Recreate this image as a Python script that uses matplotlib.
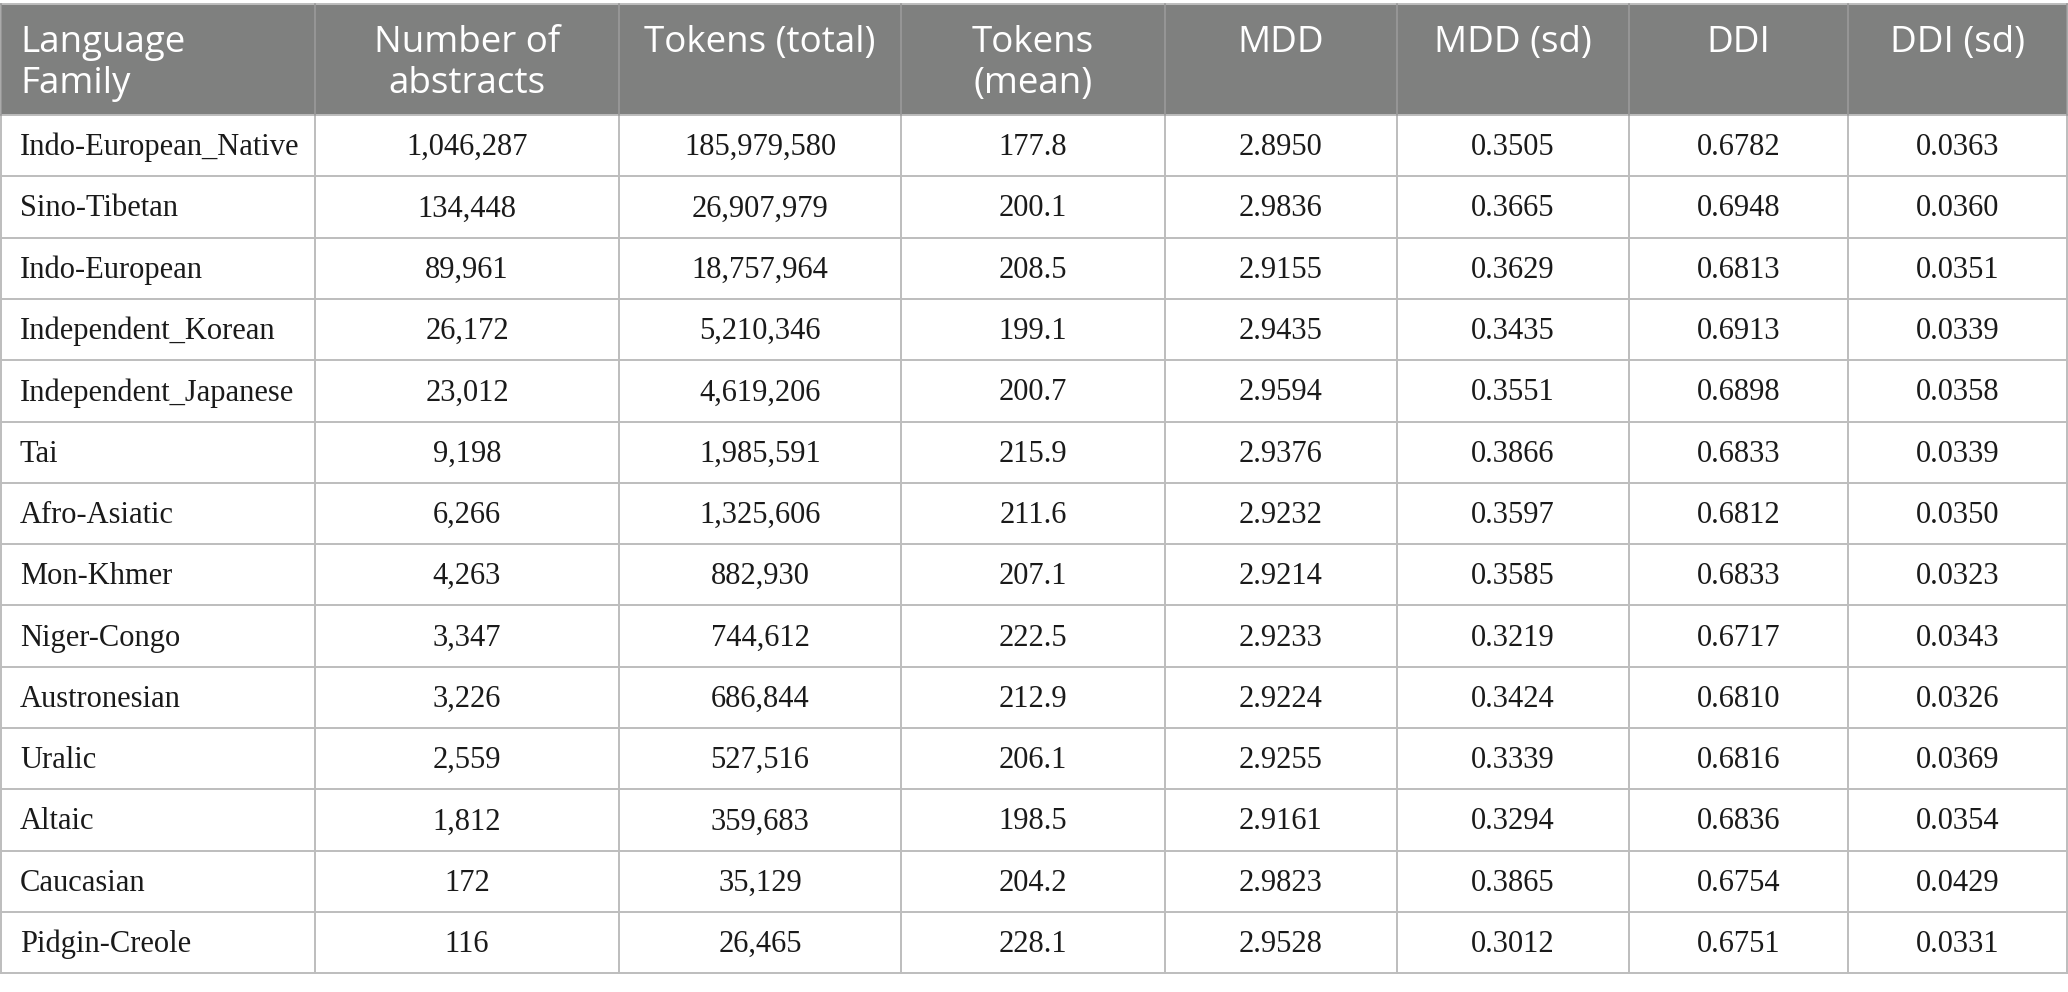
import matplotlib.pyplot as plt
from matplotlib.patches import Rectangle

headers = ["Language\nFamily", "Number of\nabstracts", "Tokens (total)", "Tokens\n(mean)",
           "MDD", "MDD (sd)", "DDI", "DDI (sd)"]

families = ["Indo-European_Native", "Sino-Tibetan", "Indo-European", "Independent_Korean",
            "Independent_Japanese", "Tai", "Afro-Asiatic", "Mon-Khmer", "Niger-Congo",
            "Austronesian", "Uralic", "Altaic", "Caucasian", "Pidgin-Creole"]
n_abstracts = ["1,046,287", "134,448", "89,961", "26,172", "23,012", "9,198", "6,266",
               "4,263", "3,347", "3,226", "2,559", "1,812", "172", "116"]
tokens_total = ["185,979,580", "26,907,979", "18,757,964", "5,210,346", "4,619,206",
                "1,985,591", "1,325,606", "882,930", "744,612", "686,844", "527,516",
                "359,683", "35,129", "26,465"]
tokens_mean = ["177.8", "200.1", "208.5", "199.1", "200.7", "215.9", "211.6", "207.1",
               "222.5", "212.9", "206.1", "198.5", "204.2", "228.1"]
mdd = ["2.8950", "2.9836", "2.9155", "2.9435", "2.9594", "2.9376", "2.9232", "2.9214",
       "2.9233", "2.9224", "2.9255", "2.9161", "2.9823", "2.9528"]
mdd_sd = ["0.3505", "0.3665", "0.3629", "0.3435", "0.3551", "0.3866", "0.3597", "0.3585",
          "0.3219", "0.3424", "0.3339", "0.3294", "0.3865", "0.3012"]
ddi = ["0.6782", "0.6948", "0.6813", "0.6913", "0.6898", "0.6833", "0.6812", "0.6833",
       "0.6717", "0.6810", "0.6816", "0.6836", "0.6754", "0.6751"]
ddi_sd = ["0.0363", "0.0360", "0.0351", "0.0339", "0.0358", "0.0339", "0.0350", "0.0323",
          "0.0343", "0.0326", "0.0369", "0.0354", "0.0429", "0.0331"]

columns = [families, n_abstracts, tokens_total, tokens_mean, mdd, mdd_sd, ddi, ddi_sd]

# layout in pixels
col_edges = [1, 315, 619, 901, 1165, 1397, 1629, 1848, 2067]
top, head_h, row_h = 4, 111, 61.3
grid = "#bdbdbd"

fig = plt.figure(figsize=(20.68, 9.92), dpi=100)
ax = fig.add_axes([0, 0, 1, 1])
ax.set_xlim(0, 2068)
ax.set_ylim(992, 0)
ax.axis("off")

# header
ax.add_patch(Rectangle((col_edges[0], top), col_edges[-1] - col_edges[0], head_h,
                       facecolor="#7f807f", edgecolor="none"))
for i, h in enumerate(headers):
    if i == 0:
        ax.text(col_edges[0] + 19, top + 21, h, ha="left", va="top", color="white",
                fontsize=26.5, family="Open Sans", linespacing=1.18)
    else:
        cx = (col_edges[i] + col_edges[i + 1]) / 2
        ax.text(cx, top + 21, h, ha="center", va="top", color="white",
                fontsize=26.5, family="Open Sans", linespacing=1.18)

body_top = top + head_h
n = len(families)
for j in range(n):
    cy = body_top + (j + 0.5) * row_h + 2
    for i, col in enumerate(columns):
        if i == 0:
            ax.text(col_edges[0] + 19, cy, col[j], ha="left", va="center",
                    fontsize=22, family="Liberation Serif", color="#1a1a1a")
        else:
            cx = (col_edges[i] + col_edges[i + 1]) / 2
            ax.text(cx, cy, col[j], ha="center", va="center",
                    fontsize=22, family="Liberation Serif", color="#1a1a1a")

# grid lines
bottom = body_top + n * row_h
for j in range(n + 1):
    y = body_top + j * row_h
    ax.plot([col_edges[0], col_edges[-1]], [y, y], color=grid, lw=1.4)
ax.plot([col_edges[0], col_edges[-1]], [top, top], color=grid, lw=1.4)
for x in col_edges:
    ax.plot([x, x], [body_top, bottom], color=grid, lw=1.4)
    ax.plot([x, x], [top, body_top], color="#9a9a9a", lw=1.2)

fig.savefig("out.png", dpi=100, facecolor="white")
